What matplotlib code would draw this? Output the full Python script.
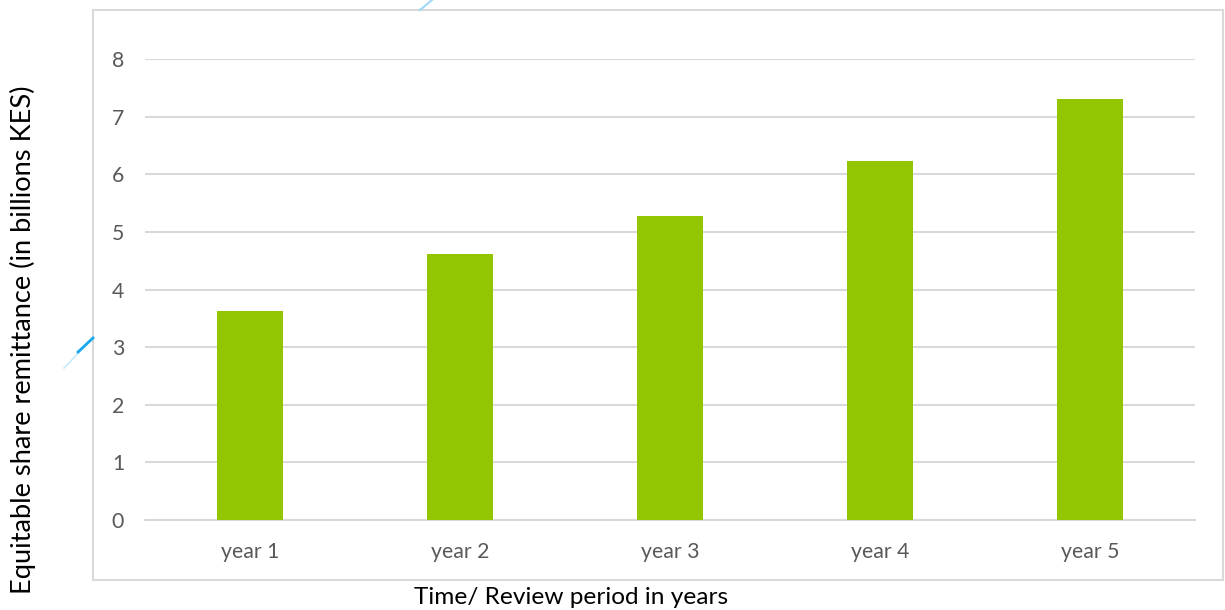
import matplotlib
matplotlib.use("Agg")
import matplotlib.pyplot as plt
from matplotlib.patches import Rectangle
from matplotlib.lines import Line2D

categories = ["year 1", "year 2", "year 3", "year 4", "year 5"]
remittance = [3.62, 4.61, 5.28, 6.23, 7.30]
y_ticks = [0, 1, 2, 3, 4, 5, 6, 7, 8]

plt.rcParams["font.family"] = ["Lato", "DejaVu Sans"]

W, H = 1225, 610
fig = plt.figure(figsize=(W / 100, H / 100), dpi=100)
fig.patch.set_facecolor("white")

# chart frame
fig.add_artist(Rectangle((93 / W, 1 - 580 / H), (1223 - 93) / W, (580 - 10) / H,
                         transform=fig.transFigure, fill=False,
                         edgecolor="#D9D9D9", linewidth=1.5))

ax = fig.add_axes([145 / W, 1 - 520 / H, 1050 / W, 461 / H])
x = range(len(categories))
ax.bar(x, remittance, width=0.31, color="#93C500", zorder=3)

ax.set_xlim(-0.5, len(categories) - 0.5)
ax.set_ylim(0, 8)
ax.set_yticks(y_ticks)
ax.set_xticks(list(x))
ax.set_xticklabels(categories)
ax.grid(axis="y", color="#D9D9D9", linewidth=1.5, zorder=0)
for s in ["top", "right", "left"]:
    ax.spines[s].set_visible(False)
ax.spines["bottom"].set_color("#D9D9D9")
ax.spines["bottom"].set_linewidth(1.5)
ax.tick_params(axis="both", length=0, labelsize=15.3, labelcolor="#595959")
ax.tick_params(axis="y", pad=15)
ax.tick_params(axis="x", pad=16)

fig.text(571 / W, 1 - 597 / H, "Time/ Review period in years",
         ha="center", va="center", fontsize=17.6, color="black")
fig.text(23 / W, 1 - 340 / H, "Equitable share remittance (in billions KES)",
         ha="center", va="center", rotation=90, fontsize=19.6, color="black")

# small blue connector strokes around the frame
fig.add_artist(Line2D([420 / W, 432 / W], [1 - 10 / H, 1 - 0 / H],
                      transform=fig.transFigure, color="#9ED8F5", linewidth=1.5))
fig.add_artist(Line2D([64 / W, 93 / W], [1 - 368 / H, 1 - 338 / H],
                      transform=fig.transFigure, color="#C8EAFB", linewidth=1.2))
fig.add_artist(Line2D([78 / W, 93 / W], [1 - 352 / H, 1 - 338 / H],
                      transform=fig.transFigure, color="#1AA7EC", linewidth=2))

fig.savefig("out.png", dpi=100)
